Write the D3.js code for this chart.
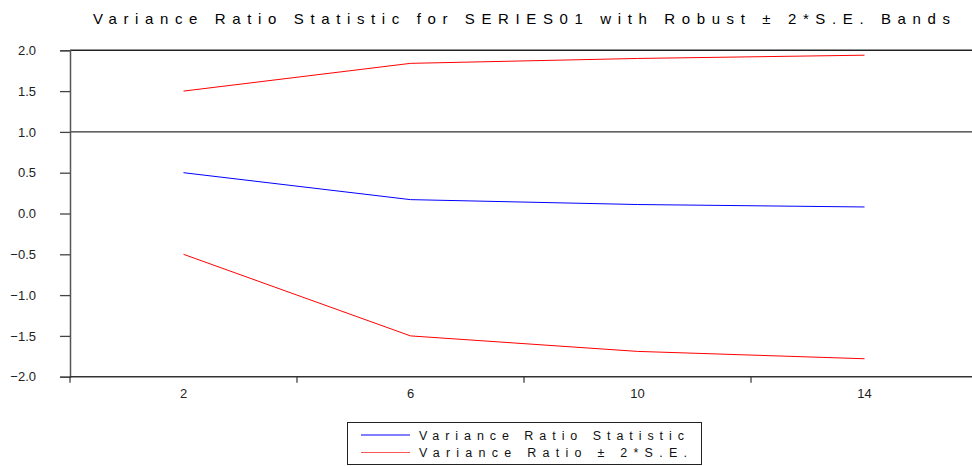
<!DOCTYPE html>
<html><head><meta charset="utf-8">
<script src="https://cdn.jsdelivr.net/npm/d3@7"></script>
<style>body{margin:0;background:#fff}svg{display:block;font-family:"Liberation Sans",Arial,sans-serif}</style>
</head><body><svg id="c" width="972" height="466"></svg>
<script>
const lags = ["2","6","10","14"];
const vrStat = [0.50, 0.17, 0.11, 0.08];
const upperBand = [1.50, 1.84, 1.90, 1.94];
const lowerBand = [-0.50, -1.50, -1.69, -1.78];
const yTicks = [2.0, 1.5, 1.0, 0.5, 0.0, -0.5, -1.0, -1.5, -2.0];
const titleText = "Variance Ratio Statistic for SERIES01 with Robust \u00B1 2*S.E. Bands";
const legendLabels = ["Variance Ratio Statistic", "Variance Ratio \u00B1 2*S.E."];

const svg = d3.select("#c");
const L = 70, R = 978, T = 50.3, B = 376.7;
const x = d3.scaleBand().domain(lags).range([L, R]);
const y = d3.scaleLinear().domain([-2, 2]).range([B, T]);

// title
svg.append("text").attr("x", 93).attr("y", 24).attr("font-size", 15).attr("fill", "#000")
  .attr("textLength", 857).attr("lengthAdjust", "spacing").text(titleText);

// top frame line
svg.append("line").attr("x1", L).attr("x2", 972).attr("y1", T).attr("y2", T).attr("stroke", "#222").attr("stroke-width", 1.5);
// reference line at 1.0
svg.append("line").attr("x1", L).attr("x2", 972).attr("y1", y(1)).attr("y2", y(1)).attr("stroke", "#333").attr("stroke-width", 1.2);

// y axis
const ya = svg.append("g").attr("transform", `translate(${L},0)`)
  .call(d3.axisLeft(y).tickValues(yTicks).tickSize(10).tickPadding(24).tickFormat(d3.format(".1f")));
ya.select(".domain").attr("stroke", "#555").attr("stroke-width", 1.5);
ya.selectAll(".tick line").attr("stroke", "#444").attr("stroke-width", 1.3);
ya.selectAll("text").attr("font-size", 13).attr("fill", "#222").attr("font-family", "Liberation Sans, Arial, sans-serif");

// x axis
const xa = svg.append("g").attr("transform", `translate(0,${B})`);
xa.append("line").attr("x1", L).attr("x2", 972).attr("stroke", "#333").attr("stroke-width", 1.5);
const bounds = [L].concat(lags.slice(1).map(d => x(d)));
xa.selectAll("line.tk").data(bounds).enter().append("line").attr("class", "tk")
  .attr("x1", d => d).attr("x2", d => d).attr("y1", 0).attr("y2", 6).attr("stroke", "#333").attr("stroke-width", 1.2);
xa.selectAll("text").data(lags).enter().append("text")
  .attr("x", d => x(d) + x.bandwidth() / 2).attr("y", 21).attr("text-anchor", "middle")
  .attr("font-size", 13).attr("fill", "#222").text(d => d);

const line = d3.line().x((d, i) => x(lags[i]) + x.bandwidth() / 2).y(d => y(d));
svg.append("path").datum(upperBand).attr("d", line).attr("fill", "none").attr("stroke", "#ff0000").attr("stroke-width", 1);
svg.append("path").datum(lowerBand).attr("d", line).attr("fill", "none").attr("stroke", "#ff0000").attr("stroke-width", 1);
svg.append("path").datum(vrStat).attr("d", line).attr("fill", "none").attr("stroke", "#0000ff").attr("stroke-width", 1);

// legend
const lg = svg.append("g");
lg.append("rect").attr("x", 347.5).attr("y", 422.5).attr("width", 354).attr("height", 42).attr("fill", "#fff").attr("stroke", "#222").attr("stroke-width", 1);
const lcol = ["#0000ff", "#ff5555"];
legendLabels.forEach((t, i) => {
  const yy = 435 + i * 17.5;
  lg.append("line").attr("x1", 361).attr("x2", 410).attr("y1", yy).attr("y2", yy).attr("stroke", lcol[i]).attr("stroke-width", 1);
  lg.append("text").attr("x", 419).attr("y", yy + 4.5).attr("font-size", 12.5).attr("fill", "#111")
    .attr("textLength", i === 0 ? 265 : 268).attr("lengthAdjust", "spacing").text(t);
});
</script></body></html>
